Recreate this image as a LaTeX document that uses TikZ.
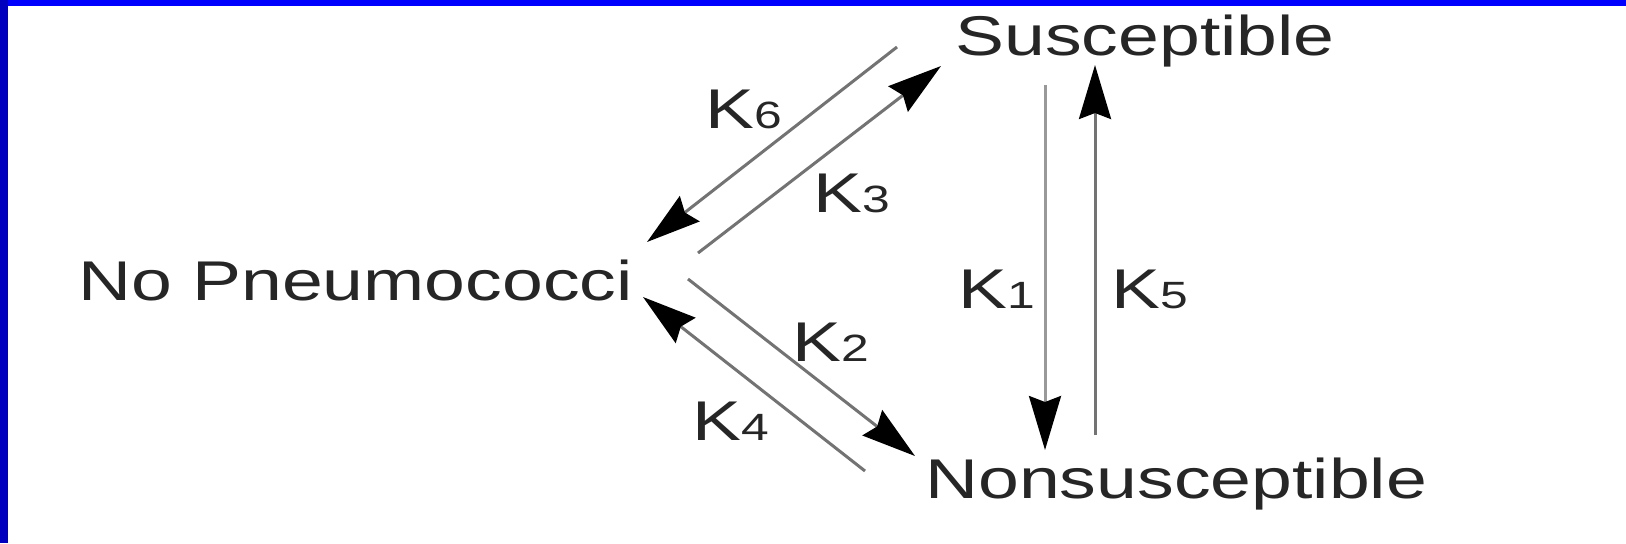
\documentclass[tikz,border=0pt]{standalone}
\usepackage{fontspec}
\newfontfamily\statefont[FakeStretch=1.31]{Liberation Sans}
\usepackage{xcolor}
\usepackage{tikz}
\usetikzlibrary{arrows.meta}
\definecolor{slideblue}{RGB}{0,0,255}
\definecolor{slidedeep}{RGB}{0,0,190}
\newcommand{\ksub}[1]{K{\fontsize{19}{22}\selectfont #1}}

\begin{document}
\begin{tikzpicture}[
    x=0.5pt, y=-0.5pt,
    state/.style={inner sep=0pt, anchor=base west, text=black!85, font=\statefont\fontsize{28}{32}\selectfont},
    rate/.style={inner sep=0pt, anchor=base west, text=black!85, font=\statefont\fontsize{28}{32}\selectfont},
    arrow/.style={line width=1.5pt, draw=black!55, -{Stealth[length=27pt, width=16pt, inset=3pt, color=black]}}
  ]
  \useasboundingbox (0,0) rectangle (1626,543);
  \fill[white] (0,0) rectangle (1626,543);
  \fill[slideblue] (0,0) rectangle (1626,6);
  \fill[slidedeep] (0,0) rectangle (8,543);

  \node (nop) [state] at (78,300) {No Pneumococci};
  \node (sus) [state] at (955,55) {Susceptible};
  \node (non) [state] at (925,498) {Nonsusceptible};

  \node (k6) [rate] at (705,128) {\ksub{6}};
  \node (k3) [rate] at (813,212) {\ksub{3}};
  \node (k2) [rate] at (792,361) {\ksub{2}};
  \node (k4) [rate] at (692,440) {\ksub{4}};
  \node (k1) [rate] at (958,308) {\ksub{1}};
  \node (k5) [rate] at (1111,308) {\ksub{5}};

  \draw [arrow] ([shift={(-58,-8)}]sus.base west) -- ([shift={(569,-58)}]nop.base west);
  \draw [arrow] ([shift={(620,-47)}]nop.base west) -- ([shift={(-14,11)}]sus.base west);
  \draw [arrow] ([shift={(610,-21)}]nop.base west) -- ([shift={(-10,-42)}]non.base west);
  \draw [arrow] ([shift={(-60,-27)}]non.base west) -- ([shift={(565,-3)}]nop.base west);
  \draw [arrow, draw=black!40] ([shift={(90,30)}]sus.base west) -- ([shift={(120,-48)}]non.base west);
  \draw [arrow] ([shift={(170,-63)}]non.base west) -- ([shift={(140,10)}]sus.base west);
\end{tikzpicture}
\end{document}
